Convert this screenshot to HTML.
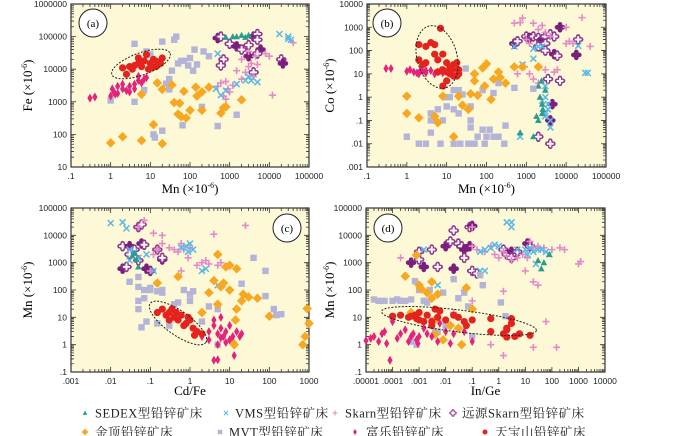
<!DOCTYPE html>
<html><head><meta charset="utf-8"><style>
body{margin:0;background:#fff;}
svg{display:block;}
text{font-family:"Liberation Sans",sans-serif;}
.ser{font-family:"Liberation Serif","Noto Serif CJK SC",serif;}
</style></head><body>
<svg id="chart" width="700" height="436" viewBox="0 0 700 436" xmlns="http://www.w3.org/2000/svg"></svg>
<script>
// ---------- data (panel a: Mn vs Fe) ----------
const aTB=[[5,22000],[8,28000],[3,12000],[2,11000],[4,13000],[6,12000],[10,15000],[12,20000],[15,17000],[20,22000],[7,18000],[5,15000],[9,10000],[2.5,7000],[14,12000],[3.5,10000],[18,15000],[11,11000]];
const aFL=[[0.3,1300],[0.4,1400],[1,1500],[1.2,2000],[1.5,1800],[2,2500],[2.5,2200],[3,3000],[4,3500],[5,4500],[6,3800],[7,5000],[8,5500],[1.1,2500],[2,3500],[3,2000],[1.5,3000],[4,2500],[5,6000],[1.3,1700]];
const aJD=[[1,55],[2,85],[6,65],[20,52],[12,200],[15,3800],[20,2400],[35,3300],[70,2100],[140,2800],[200,2000],[300,2800],[40,950],[55,900],[50,420],[60,350],[80,320],[100,550],[200,550],[150,1500],[600,450],[700,650],[800,700],[2000,1150],[6,1700]];
const aMVT=[[1,1100],[4,60000],[4,1000],[7,2300],[8,35000],[10,28000],[12,100],[13,80],[20,130],[20,70000],[25,3600],[30,5000],[35,9000],[40,80000],[45,100000],[50,15000],[60,18000],[65,190],[70,18000],[90,13000],[100,22000],[130,40000],[150,14000],[200,700],[220,35000],[300,25000],[500,180],[1500,400],[30,2400],[120,9000]];
const aSK=[[500,3000],[600,3800],[800,4200],[900,2500],[1000,2000],[1200,3200],[700,1500],[1500,9000],[2000,5000],[2500,8000],[3000,12000],[3500,15000],[4000,6000],[5000,14000],[8000,30000],[10000,25000],[12000,1600],[2000,20000],[3000,35000],[4500,25000],[40000,65000],[800,1200]];
const aVMS=[[500,30000],[450,2500],[600,1600],[800,2200],[2500,4500],[3000,6000],[3500,4500],[5000,4000],[18000,120000],[30000,100000],[30000,85000],[35000,80000],[1500,3500]];
const aSE=[[800,95000],[1200,100000],[1500,100000],[2000,110000],[3000,110000],[2500,95000]];
const aFAR=[[500,90000],[600,100000],[1000,60000],[1500,50000],[2000,40000],[3000,55000],[4000,100000],[5000,120000],[5000,80000],[6000,40000],[700,20000],[600,13000],[3000,25000],[5000,30000],[20000,20000],[22000,15000],[4000,8000]];
// ---------- panel b: Mn vs Co ----------
const bTB=[[7,900],[2,180],[3,150],[4,220],[5,180],[5,70],[8,70],[3,30],[2,40],[6,40],[10,30],[2.5,25],[8,15],[10,12],[12,20],[15,25],[18,30],[20,15],[12,10],[15,8],[10,5],[8,3],[18,8],[20,10],[6,12],[14,15]];
const bFL=[[0.3,17],[0.4,17],[1,13],[1.2,15],[1.5,12],[2,10],[2.5,13],[3,11],[4,14],[5,10],[6,12],[7,14],[8,11],[3,14],[1.8,11],[2.2,14]];
const bJD=[[1,1.1],[1,0.2],[2,0.13],[5,0.15],[6,0.08],[8,1.1],[15,0.02],[20,1.1],[25,0.45],[35,0.3],[40,1.4],[50,10],[50,5],[60,1.2],[80,18],[90,3],[100,27],[130,0.8],[150,6],[200,12],[220,7],[300,4],[500,20],[800,20],[2000,20]];
const bMVT=[[1,0.02],[2,0.01],[3,0.01],[4,0.2],[4,0.1],[4,0.03],[5,0.1],[6,0.3],[7,0.01],[8,0.1],[10,0.4],[10,1],[12,1],[15,0.01],[15,0.3],[20,0.2],[20,2],[22,0.01],[25,1.3],[30,17],[35,0.01],[40,0.1],[40,0.4],[40,0.05],[50,0.01],[60,0.02],[80,0.04],[90,0.01],[100,0.02],[120,0.04],[150,0.02],[200,0.02],[280,0.01],[300,0.06],[80,2],[150,1.5],[200,4],[500,2.5],[1500,2.3],[15,2]];
const bSK=[[500,1500],[700,1600],[800,2500],[1000,300],[1200,200],[1500,1500],[2000,800],[2500,1200],[3000,600],[4000,400],[600,10],[900,20],[1200,10],[1500,6],[2000,4],[3000,15],[5000,12],[6000,15],[10000,200],[12000,250],[15000,200],[25000,2600],[40000,150],[10000,1000]];
const bVMS=[[500,150],[1500,45],[800,25],[1500,120],[2000,150],[2500,150],[3000,3],[3000,1],[3500,0.5],[3000,0.2],[4000,0.1],[4000,0.05],[3500,0.3],[700,0.02],[20000,160],[30000,11],[35000,11],[3000,0.15],[2500,0.7]];
const bSE=[[700,0.03],[1500,0.02],[2000,3],[2200,1],[2500,0.5],[2500,0.2],[1800,0.15],[2000,0.1],[3000,2],[2600,0.3],[2400,5]];
const bFAR=[[500,200],[600,250],[1000,400],[1200,350],[1500,400],[2000,350],[2500,300],[3000,400],[4000,500],[5000,70],[6000,60],[3500,6],[7000,1000],[7000,5],[20000,300],[18000,65],[2000,150],[3000,200],[4000,0.1],[2000,0.02],[4000,0.01],[4500,0.5],[3000,100],[5000,400]];
// ---------- panel c: Cd/Fe vs Mn ----------
const cTB=[[0.2,20],[0.3,15],[0.25,12],[0.4,10],[0.5,8],[0.6,12],[0.35,20],[0.8,6],[1,8],[0.7,5],[1.2,4],[1.5,3],[2,2.5],[0.45,15],[0.9,10],[1.3,2.2],[0.3,8],[0.15,15]];
const cFL=[[2,2],[3,3],[4,5],[5,2.5],[6,4],[7,2],[8,3],[10,1.5],[12,2],[15,3],[18,2],[4,8],[6,10],[3,1.5],[5,1],[8,1.2],[10,5],[20,2.5],[4,0.27],[5,0.28],[13,0.4],[6,1.8]];
const cJD=[[0.5,310],[0.15,180],[2,15],[3,80],[4,220],[5,30],[5,2000],[6,130],[7,180],[8,700],[10,800],[10,100],[13,1],[14,8],[15,600],[15,20],[20,40],[22,70],[30,55],[50,50],[100,11],[700,1],[800,2],[900,21],[1000,6],[12,1.2]];
const cMVT=[[0.03,200],[0.05,130],[0.05,300],[0.05,40],[0.07,100],[0.1,120],[0.1,100],[0.2,80],[0.07,50],[0.06,4.3],[0.08,7],[0.15,6],[0.2,100],[0.3,5],[0.4,30],[0.5,35],[0.7,100],[1,70],[1.2,90],[1,40],[2,7],[5,20],[5,1],[20,170],[40,1500],[80,500],[80,60],[130,20],[150,12],[200,13],[0.15,90],[3,25],[0.05,20]];
const cSK=[[0.07,35000],[0.05,20000],[0.12,12000],[0.2,10000],[0.2,5000],[0.3,3500],[0.4,3000],[0.5,2500],[0.6,5000],[0.7,3000],[0.9,1500],[1,3500],[1.5,800],[2,1000],[2.5,1200],[3,900],[4,11000],[5,800],[6,1000],[8,700],[25,23000],[0.1,500],[0.6,500],[0.12,2000],[0.15,3000]];
const cVMS=[[0.01,28000],[0.02,30000],[0.025,18000],[0.03,3000],[0.04,2500],[0.05,1500],[0.08,2000],[0.03,1200],[0.6,3500],[0.8,4000],[1,5000],[1.2,3000],[2,500],[2.5,600],[5,150],[0.12,500],[0.9,2500]];
const cSE=[[0.04,2200],[0.045,1300],[0.05,700],[0.035,1800]];
const cFAR=[[0.02,600],[0.025,700],[0.02,4000],[0.03,4000],[0.04,3000],[0.05,20000],[0.06,5000],[0.07,4500],[0.15,3000],[0.2,1300],[0.2,1500],[0.05,1200],[0.1,500],[0.06,25000],[0.03,2000],[0.08,600]];
// ---------- panel d: In/Ge vs Mn ----------
const dTB=[[0.0001,11],[0.0002,12],[0.0004,10],[0.0005,11],[0.0007,12],[0.001,15],[0.001,8],[0.0015,7],[0.002,12],[0.003,7],[0.003,5],[0.004,20],[0.006,17],[0.01,8],[0.02,12],[0.03,10],[0.05,7],[0.06,5],[0.1,8],[0.5,9],[0.5,3],[1.5,2.5],[2,3.5],[2,1.9],[3,9],[3,6],[2,4],[4,2],[6,2.5],[15,2.2],[0.0008,9],[0.005,10]];
const dFL=[[0.00001,1.4],[0.000015,1.7],[0.00002,2],[0.00003,1.3],[0.00004,2.5],[0.00005,3],[0.00006,1.1],[0.0001,7],[0.00015,1.7],[0.0002,2.5],[0.0003,3.5],[0.0004,1.3],[0.0005,2],[0.0006,2.5],[0.0008,1.5],[0.001,2],[0.0015,4],[0.002,2.5],[0.003,2],[0.005,1.3],[0.006,6],[0.01,3],[0.015,1.1],[0.02,2.5],[0.05,3],[0.1,1.3],[0.00008,0.27],[0.0009,1.1]];
const dJD=[[0.0003,320],[0.0005,15],[0.0008,1900],[0.001,150],[0.0012,110],[0.002,80],[0.003,200],[0.003,50],[0.004,8],[0.004,2.4],[0.005,70],[0.008,1.5],[0.015,5],[0.03,4],[0.04,1],[0.06,120],[0.1,20]];
const dMVT=[[0.00002,45],[0.00003,40],[0.00005,40],[0.0001,40],[0.00015,45],[0.0002,40],[0.0003,40],[0.0005,45],[0.0007,210],[0.001,100],[0.0015,40],[0.002,35],[0.0025,100],[0.003,8],[0.004,3],[0.005,3],[0.008,80],[0.01,5],[0.02,250],[0.03,50],[0.05,80],[0.07,25],[0.1,2],[0.2,350],[0.25,150],[1.2,35],[1.8,11],[0.0001,10],[0.0005,1.3],[0.0008,1]];
const dSK=[[0.0002,1500],[0.05,100],[0.1,4000],[0.1,20000],[0.15,3000],[0.3,2500],[0.5,4000],[0.7,2000],[1,1500],[1.5,2500],[2,1800],[3,1200],[5,1500],[8,2000],[12,1500],[15,6000],[20,3500],[30,4000],[50,3500],[100,3000],[200,3500],[300,3000],[1000,900],[1200,1100],[10,500],[20,200],[30,150],[60,7],[150,0.8],[0.5,1.0],[1.5,0.4],[20,0.8],[1.5,90],[0.02,15],[0.1,40]];
const dVMS=[[0.0015,3000],[0.005,150],[0.2,2500],[0.3,3000],[0.5,3500],[0.7,4500],[1,4000],[2,30000],[3,20000],[3,30000],[5,3000],[10,3000],[12,2000],[15,3500],[20,2500],[30,3000],[40,3000],[60,2500],[80,2000],[25,900],[0.2,500],[0.3,500]];
const dSE=[[30,1200],[40,600],[50,1000],[80,2000]];
const dFAR=[[0.0005,1000],[0.001,1300],[0.001,2500],[0.0015,700],[0.003,3000],[0.005,700],[0.01,4000],[0.015,6000],[0.02,15000],[0.02,600],[0.03,5000],[0.04,4000],[0.05,3000],[0.05,1500],[0.08,20000],[0.1,22000],[0.1,500],[0.15,400],[0.08,4000],[1.5,3000],[2,2000],[3,2500],[4,2000],[5,2500],[12,5000],[15,4000],[3,1500]];

const xTicksA=[".1","1","10","100","1000","10000","100000"];
const yTicksA=["10","100","1000","10000","100000","1000000"];
const yTicksB=[".001",".01",".1","1","10","100","1000","10000"];
const xTicksC=[".001",".01",".1","1","10","100","1000"];
const yTicksC=[".1","1","10","100","1000","10000","100000"];
const xTicksD=[".00001",".0001",".001",".01",".1","1","10","100","1000","10000"];
const legendLabels=["SEDEX型铅锌矿床","VMS型铅锌矿床","Skarn型铅锌矿床","远源Skarn型铅锌矿床","金顶铅锌矿床","MVT型铅锌矿床","富乐铅锌矿床","天宝山铅锌矿床"];

const NS="http://www.w3.org/2000/svg";
const svg=document.getElementById('chart');
function mk(tag,attrs,parent){const e=document.createElementNS(NS,tag);for(const k in attrs)e.setAttribute(k,attrs[k]);(parent||svg).appendChild(e);return e;}
const C={se:"#2a9d8f",vms:"#5ab8e6",sk:"#e58ac8",far:"#8e3590",jd:"#f7a823",mvt:"#b4b4d9",fl:"#e3237c",tb:"#e4231f"};
const BG="#fdf9d6";

function marker(g,type,x,y,i){
  let e;
  if(type==='tb'){e=mk('circle',{cx:x,cy:y,r:3.6,fill:C.tb},g);}
  else if(type==='fl'){e=mk('path',{d:`M${x},${y-4.5}L${x+2.6},${y}L${x},${y+4.5}L${x-2.6},${y}Z`,fill:C.fl},g);}
  else if(type==='jd'){e=mk('path',{d:`M${x},${y-4.8}L${x+4.8},${y}L${x},${y+4.8}L${x-4.8},${y}Z`,fill:C.jd},g);}
  else if(type==='mvt'){e=mk('rect',{x:x-3.2,y:y-3.2,width:6.4,height:6.4,fill:C.mvt},g);}
  else if(type==='sk'){e=mk('path',{d:`M${x-3.5},${y}H${x+3.5}M${x},${y-3.5}V${y+3.5}`,stroke:C.sk,'stroke-width':1.6,fill:'none'},g);}
  else if(type==='vms'){e=mk('path',{d:`M${x-3},${y-3}L${x+3},${y+3}M${x-3},${y+3}L${x+3},${y-3}`,stroke:C.vms,'stroke-width':1.5,fill:'none'},g);}
  else if(type==='se'){e=mk('path',{d:`M${x},${y-3.5}L${x+3.3},${y+2.6}L${x-3.3},${y+2.6}Z`,fill:C.se},g);}
  else {
    const filled=(i%3===0);
    e=mk('path',{d:`M${x-3},${y}H${x+3}M${x},${y-3}V${y+3}`,stroke:filled?"#7a1f7c":C.far,'stroke-width':4.6,'stroke-linecap':'round',fill:'none'},g);
    if(!filled) mk('path',{d:`M${x-2.6},${y}H${x+2.6}M${x},${y-2.6}V${y+2.6}`,stroke:"#fff",'stroke-width':2,'stroke-linecap':'round',fill:'none'},g);
  }
  return e;
}

function panel(opt){
  const g=mk('g',{});
  
  
  const {x0,x1,y0,y1,xmin,xmax,ymin,ymax}=opt;
  const X=v=>x0+(Math.log10(v)-xmin)/(xmax-xmin)*(x1-x0);
  const Y=v=>y1-(Math.log10(v)-ymin)/(ymax-ymin)*(y1-y0);
  const bg=mk('rect',{x:x0,y:y0,width:x1-x0,height:y1-y0,fill:BG,stroke:"#333",'stroke-width':1.2},g);
  
  
  let tp='';
  for(let d=xmin;d<xmax;d++){for(let m=1;m<10;m++){const px=x0+(d+Math.log10(m)-xmin)/(xmax-xmin)*(x1-x0);const L=m===1?5:3;tp+=`M${px},${y1}v${-L}M${px},${y0}v${L}`;}}
  for(let d=ymin;d<ymax;d++){for(let m=1;m<10;m++){const py=y1-(d+Math.log10(m)-ymin)/(ymax-ymin)*(y1-y0);const L=m===1?5:3;tp+=`M${x0},${py}h${L}M${x1},${py}h${-L}`;}}
  mk('path',{d:tp,stroke:"#333",'stroke-width':0.8,fill:'none'},g);
  const xt=mk('g',{},g);
  opt.xt.forEach((s,i)=>{const t=mk('text',{x:X(Math.pow(10,xmin+i)),y:y1+12,'font-size':8.5,'text-anchor':'middle',fill:"#222"},xt);t.textContent=s;});
  const yt=mk('g',{},g);
  opt.yt.forEach((s,i)=>{const t=mk('text',{x:x0-4,y:Y(Math.pow(10,ymin+i))+3,'font-size':8.5,'text-anchor':'end',fill:"#222"},yt);t.textContent=s;});
  const order=[['far',opt.far],['sk',opt.sk],['vms',opt.vms],['se',opt.se],['mvt',opt.mvt],['jd',opt.jd],['fl',opt.fl],['tb',opt.tb]];
  order.forEach(([type,arr])=>{
    const sg=mk('g',{},g);
    
    
    arr.forEach((p,i)=>{const m=marker(sg,type,X(p[0]),Y(p[1]),i);
      
      });
  });
  const el=mk('ellipse',{cx:opt.el[0],cy:opt.el[1],rx:opt.el[2],ry:opt.el[3],transform:`rotate(${opt.el[4]} ${opt.el[0]} ${opt.el[1]})`,fill:'none',stroke:'#222','stroke-width':1,'stroke-dasharray':'2,1.5'},g);
  
  
  const lc=mk('circle',{cx:opt.lab[0],cy:opt.lab[1],r:14,fill:'#fff',stroke:'#222','stroke-width':1},g);
  
  
  const lt=mk('text',{x:opt.lab[0],y:opt.lab[1]+4,'font-size':11,'text-anchor':'middle',class:'ser'},g);
  lt.textContent=opt.labText;
  
  
  const xa=mk('text',{x:(x0+x1)/2,y:opt.xlabY,'font-size':13,'text-anchor':'middle',class:'ser'},g);
  xa.innerHTML=opt.xlab;
  
  
  const ya=mk('text',{x:opt.ylabX,y:(y0+y1)/2,'font-size':13,'text-anchor':'middle',class:'ser',transform:`rotate(-90 ${opt.ylabX} ${(y0+y1)/2})`},g);
  ya.innerHTML=opt.ylab;
  
  
}
const mnl='Mn (×10<tspan dy="-5" font-size="8">-6</tspan><tspan dy="5">)</tspan>';
panel({name:'panel-a',x0:71,x1:309,y0:4,y1:167,xmin:-1,xmax:5,ymin:1,ymax:6,xt:xTicksA,yt:yTicksA,
 tb:aTB,fl:aFL,jd:aJD,mvt:aMVT,sk:aSK,vms:aVMS,se:aSE,far:aFAR,el:[141,64,31,11,-20],lab:[93,23],labText:'(a)',
 xlab:mnl,xlabY:193,ylab:'Fe (×10<tspan dy="-5" font-size="8">-6</tspan><tspan dy="5">)</tspan>',ylabX:32});
panel({name:'panel-b',x0:367,x1:606,y0:4,y1:167,xmin:-1,xmax:5,ymin:-3,ymax:4,xt:xTicksA,yt:yTicksB,
 tb:bTB,fl:bFL,jd:bJD,mvt:bMVT,sk:bSK,vms:bVMS,se:bSE,far:bFAR,el:[437,57,20,32,-15],lab:[387,23],labText:'(b)',
 xlab:mnl,xlabY:193,ylab:'Co (×10<tspan dy="-5" font-size="8">-6</tspan><tspan dy="5">)</tspan>',ylabX:334});
panel({name:'panel-c',x0:71,x1:309,y0:208,y1:372,xmin:-3,xmax:3,ymin:-1,ymax:5,xt:xTicksC,yt:yTicksC,
 tb:cTB,fl:cFL,jd:cJD,mvt:cMVT,sk:cSK,vms:cVMS,se:cSE,far:cFAR,el:[178,323,34,12,35],lab:[287,228],labText:'(c)',
 xlab:'Cd/Fe',xlabY:395,ylab:mnl,ylabX:32});
panel({name:'panel-d',x0:366,x1:605,y0:208,y1:372,xmin:-5,xmax:4,ymin:-1,ymax:5,xt:xTicksD,yt:yTicksC,
 tb:dTB,fl:dFL,jd:dJD,mvt:dMVT,sk:dSK,vms:dVMS,se:dSE,far:dFAR,el:[459,321,78,11,7],lab:[388,228],labText:'(d)',
 xlab:'In/Ge',xlabY:395,ylab:mnl,ylabX:334});

const lg=mk('g',{});


const legTypes=['se','vms','sk','far','jd','mvt','fl','tb'];
const legMX=[85,226,335,453,85,220,355,485];
const legTX=[95,235,345,462,95,229,366,495];
legTypes.forEach((t,i)=>{
  const y=i<4?413:432;
  const eg=mk('g',{},lg);
  
  
  const s=mk('g',{transform:`translate(${legMX[i]} ${y}) scale(0.7) translate(${-legMX[i]} ${-y})`},eg);
  marker(s,t,legMX[i],y,1);
  const tx=mk('text',{x:legTX[i],y:y+4.5,'font-size':12.5,class:'ser',fill:'#222','letter-spacing':'0.5'},eg);
  tx.textContent=legendLabels[i];
});
</script>
</body></html>
